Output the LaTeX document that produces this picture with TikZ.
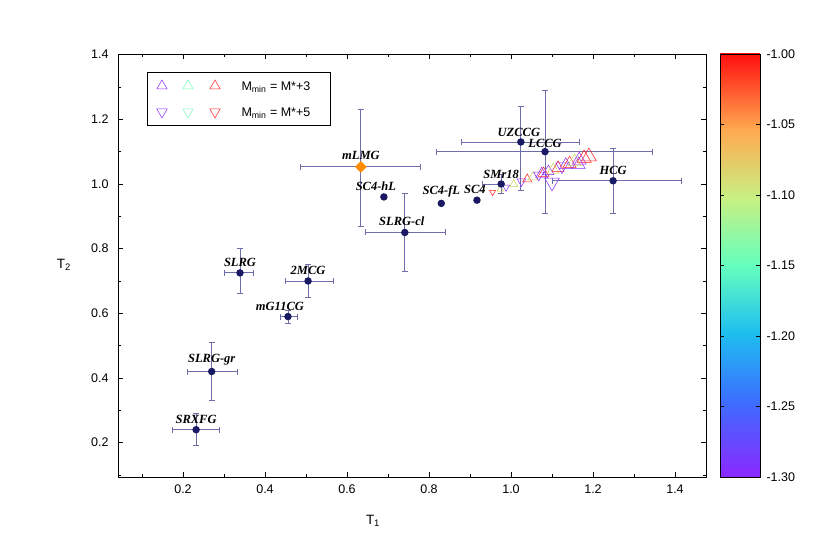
\documentclass[tikz,border=0pt]{standalone}
\usepackage{fontspec}
\setmainfont{Liberation Sans}
\newfontfamily\labfont{Liberation Serif}
\usetikzlibrary{shapes.geometric}
\definecolor{navy}{RGB}{25,25,100}
\definecolor{errc}{RGB}{110,110,170}
\definecolor{tpur}{RGB}{140,40,255}
\definecolor{tgrn}{RGB}{120,255,180}
\definecolor{tyel}{RGB}{200,210,80}
\definecolor{tred}{RGB}{255,30,30}
\definecolor{cb0}{RGB}{140,40,255}
\definecolor{cb1}{RGB}{60,110,255}
\definecolor{cb2}{RGB}{30,190,240}
\definecolor{cb3}{RGB}{100,255,190}
\definecolor{cb4}{RGB}{200,240,130}
\definecolor{cb5}{RGB}{255,170,80}
\definecolor{cb6}{RGB}{255,15,15}
\pgfdeclareverticalshading{rainbowbar}{100bp}{
 color(0bp)=(cb0); color(25bp)=(cb0); color(34bp)=(cb1); color(42bp)=(cb2); color(50bp)=(cb3);
 color(58bp)=(cb4); color(66bp)=(cb5); color(75bp)=(cb6); color(100bp)=(cb6)}
\tikzset{
 pt/.style={circle,fill=navy,inner sep=0pt,minimum size=7.5pt},
 lab/.style={font=\labfont\bfseries\itshape\fontsize{12.5}{12.5}\selectfont,inner sep=1pt},
 eb/.style={errc,line width=0.9pt},
 tick/.style={black,line width=0.4pt},
 up/.style={regular polygon,regular polygon sides=3,draw=#1,inner sep=0pt,minimum size=13pt,line width=0.5pt},
 dn/.style={regular polygon,regular polygon sides=3,shape border rotate=180,draw=#1,inner sep=0pt,minimum size=13pt,line width=0.5pt},
 tl/.style={font=\fontsize{12.5}{12.5}\selectfont}
}
\begin{document}
\begin{tikzpicture}[x=1pt,y=1pt]
\useasboundingbox (0,0) rectangle (830,-559);
\begin{scope}[x=410pt,y=323.3pt,shift={(101pt,-507.3pt)}]
\newcommand\ebar[6]{%
 \draw[eb] (#3,#2) -- (#4,#2); \draw[eb] (#1,#5) -- (#1,#6);
 \draw[eb] (#3,#2)++(0,-3pt) -- ++(0,6pt); \draw[eb] (#4,#2)++(0,-3pt) -- ++(0,6pt);
 \draw[eb] (#1,#5)++(-3pt,0) -- ++(6pt,0); \draw[eb] (#1,#6)++(-3pt,0) -- ++(6pt,0);}
\ebar{0.634}{1.053}{0.487}{0.780}{0.87}{1.23}
\ebar{0.741}{0.85}{0.644}{0.839}{0.73}{0.97}
\ebar{1.024}{1.13}{0.878}{1.168}{0.98}{1.24}
\ebar{1.083}{1.10}{0.817}{1.346}{0.91}{1.29}
\ebar{1.249}{1.01}{1.10}{1.415}{0.91}{1.11}
\ebar{0.976}{1.0}{0.93}{0.976}{0.97}{1.03}
\ebar{0.339}{0.725}{0.302}{0.371}{0.66}{0.80}
\ebar{0.505}{0.70}{0.449}{0.566}{0.65}{0.75}
\ebar{0.456}{0.59}{0.437}{0.478}{0.57}{0.61}
\ebar{0.27}{0.42}{0.212}{0.332}{0.33}{0.51}
\ebar{0.232}{0.24}{0.175}{0.29}{0.19}{0.29}
\foreach \t/\c/\d in {0/tred/dn,0.08/tyel/up,0.14/tpur/dn,0.22/tyel/up,0.3/tpur/dn,0.36/tred/up,0.42/tyel/up,0.48/tpur/dn,0.53/tred/up,0.58/tpur/up,0.63/tyel/up,0.68/tred/up,0.72/tpur/dn,0.76/tpur/up,0.8/tred/up,0.85/tyel/up,0.9/tpur/up,0.95/tred/up,1.0/tred/up}{
 \pgfmathsetmacro\xx{0.955+0.235*\t}
 \pgfmathsetmacro\yy{0.975+0.11*\t}
 \pgfmathsetmacro\sz{7+10*\t}
 \node[\d=\c,minimum size=\sz pt] at (\xx,\yy) {};
}
\node[dn=tpur,minimum size=17pt] at (1.1,1.005) {};
\node[up=tpur,minimum size=15pt] at (1.165,1.06) {};
\node[up=tpur,minimum size=14pt] at (1.075,1.03) {};
\node[diamond,fill=orange!90!yellow,inner sep=0pt,minimum size=12pt] (mlmg) at (0.634,1.053) {};
\node[pt] (slrgcl) at (0.741,0.85) {};
\node[pt] (uzccg) at (1.024,1.13) {};
\node[pt] (lccg) at (1.083,1.10) {};
\node[pt] (hcg) at (1.249,1.01) {};
\node[pt] (smr) at (0.976,1.0) {};
\node[pt] (sc4) at (0.917,0.95) {};
\node[pt] (sc4fl) at (0.83,0.94) {};
\node[pt] (sc4hl) at (0.69,0.96) {};
\node[pt] (slrg) at (0.339,0.725) {};
\node[pt] (mcg) at (0.505,0.70) {};
\node[pt] (mg11) at (0.456,0.59) {};
\node[pt] (slrggr) at (0.27,0.42) {};
\node[pt] (srxfg) at (0.232,0.24) {};
\node[lab,anchor=south] at ([yshift=6pt]mlmg) {mLMG};
\node[lab,anchor=south] at ([xshift=-8pt,yshift=5pt]sc4hl) {SC4-hL};
\node[lab,anchor=south] at ([yshift=5pt]sc4fl) {SC4-fL};
\node[lab,anchor=south] at ([xshift=-2pt,yshift=5pt]sc4) {SC4};
\node[lab,anchor=south] at ([yshift=4pt]smr) {SMr18};
\node[lab,anchor=south] at ([xshift=-2pt,yshift=4pt]uzccg) {UZCCG};
\node[lab,anchor=south] at ([yshift=3pt]lccg) {LCCG};
\node[lab,anchor=south] at ([yshift=5pt]hcg) {HCG};
\node[lab,anchor=south] at ([xshift=-3pt,yshift=6pt]slrgcl) {SLRG-cl};
\node[lab,anchor=south] at ([yshift=5pt]slrg) {SLRG};
\node[lab,anchor=south] at ([yshift=5pt]mcg) {2MCG};
\node[lab,anchor=south] at ([xshift=-8pt,yshift=5pt]mg11) {mG11CG};
\node[lab,anchor=south] at ([yshift=5pt]slrggr) {SLRG-gr};
\node[lab,anchor=south] at ([yshift=5pt]srxfg) {SRXFG};
\end{scope}
\draw[line width=0.5pt] (118,-54) rectangle (706,-477);
\foreach \v/\l in {0.2/0.2,0.4/0.4,0.6/0.6,0.8/0.8,1.0/1.0,1.2/1.2,1.4/1.4}{
 \pgfmathsetmacro\px{101+410*\v}
 \draw[tick] (\px,-477) -- ++(0,5); \draw[tick] (\px,-54) -- ++(0,-5);
 \node[tl,anchor=north] at (\px,-481) {\l};}
\foreach \v in {0.1,0.3,...,1.45}{\pgfmathsetmacro\px{101+410*\v}
 \draw[tick] (\px,-477) -- ++(0,3); \draw[tick] (\px,-54) -- ++(0,-3);}
\foreach \v/\l in {0.2/0.2,0.4/0.4,0.6/0.6,0.8/0.8,1.0/1.0,1.2/1.2,1.4/1.4}{
 \pgfmathsetmacro\py{-507.3+323.3*\v}
 \draw[tick] (118,\py) -- ++(5,0); \draw[tick] (706,\py) -- ++(-5,0);
 \node[tl,anchor=east] at (112,\py) {\l};}
\foreach \v in {0.1,0.3,...,1.35}{\pgfmathsetmacro\py{-507.3+323.3*\v}
 \draw[tick] (118,\py) -- ++(3,0); \draw[tick] (706,\py) -- ++(-3,0);}
\node[font=\fontsize{13.5}{13.5}\selectfont] (xl) at (373,-521) {T\textsubscript{1}};
\node[font=\fontsize{13.5}{13.5}\selectfont] (yl) at (64,-265) {T\textsubscript{2}};
\node[draw,line width=0.8pt,minimum width=183pt,minimum height=53pt,anchor=north west] (leg) at (147,-72) {};
\node[up=tpur,minimum size=12pt] (l1) at (162,-86) {};
\node[up=tgrn,minimum size=12pt] (l2) at (188,-86) {};
\node[up=tred,minimum size=12pt] (l3) at (215,-86) {};
\node[dn=tpur,minimum size=12pt] (l4) at (162,-112) {};
\node[dn=tgrn,minimum size=12pt] (l5) at (188,-112) {};
\node[dn=tred,minimum size=12pt] (l6) at (215,-112) {};
\node[tl,anchor=west] at (238,-87) {M\textsubscript{min} = M*+3};
\node[tl,anchor=west] at (238,-113) {M\textsubscript{min} = M*+5};
\shade[shading=rainbowbar] (720,-477) rectangle (760,-54);
\draw[line width=0.5pt] (720,-477) rectangle (760,-54);
\foreach \i/\l in {0/-1.00,1/-1.05,2/-1.10,3/-1.15,4/-1.20,5/-1.25,6/-1.30}{
 \pgfmathsetmacro\py{-54-70.5*\i}
 \draw[tick] (760,\py) -- ++(-4,0); \draw[tick] (720,\py) -- ++(4,0);
 \node[tl,anchor=west] at (763,\py) {\l};}
\end{tikzpicture}
\end{document}
